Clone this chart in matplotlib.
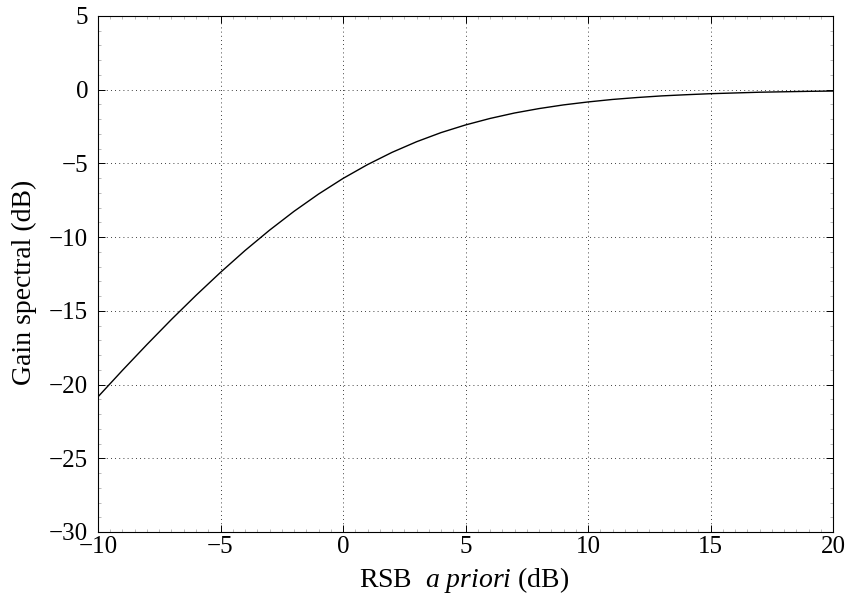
import matplotlib
matplotlib.use("Agg")
import matplotlib.pyplot as plt
from matplotlib.ticker import MultipleLocator

plt.rcParams['font.family'] = ['Liberation Serif', 'DejaVu Serif']
plt.rcParams['mathtext.fontset'] = 'custom'
plt.rcParams['mathtext.rm'] = 'Liberation Serif'
plt.rcParams['mathtext.it'] = 'Liberation Serif:italic'

# RSB a priori (dB) et gain spectral (dB)
rsb_db = [-10, -9, -8, -7, -6, -5, -4, -3, -2, -1, 0, 1, 2, 3, 4, 5,
          6, 7, 8, 9, 10, 11, 12, 13, 14, 15, 16, 17, 18, 19, 20]
gain_db = [-20.83, -19.03, -17.28, -15.58, -13.95, -12.39, -10.91, -9.53,
           -8.25, -7.08, -6.02, -5.08, -4.25, -3.53, -2.91, -2.39, -1.95,
           -1.58, -1.28, -1.03, -0.83, -0.66, -0.53, -0.42, -0.34, -0.27,
           -0.22, -0.17, -0.14, -0.11, -0.09]

x_ticks = [-10, -5, 0, 5, 10, 15, 20]
y_ticks = [-30, -25, -20, -15, -10, -5, 0, 5]

fig = plt.figure(figsize=(8.49, 5.96), dpi=100)
ax = fig.add_axes([98 / 849, 64 / 596, 735 / 849, 516 / 596])

ax.plot(rsb_db, gain_db, color='black', linewidth=1.0)

ax.set_xlim(-10, 20)
ax.set_ylim(-30, 5)
ax.set_xticks(x_ticks)
ax.set_yticks(y_ticks)
ax.set_xticklabels([str(t).replace('-', '\u2212') for t in x_ticks])
ax.set_yticklabels([str(t).replace('-', '\u2212') for t in y_ticks])
ax.xaxis.set_minor_locator(MultipleLocator(0.5))
ax.yaxis.set_minor_locator(MultipleLocator(1))

ax.grid(True, which='major', linestyle=(0, (1, 4)), color='black', linewidth=0.6)
ax.tick_params(which='major', direction='in', length=5, width=0.7,
               labelsize=18, top=True, right=True)
ax.tick_params(axis='x', which='major', pad=3)
ax.tick_params(axis='y', which='major', pad=7)
ax.tick_params(which='minor', direction='in', length=2, width=0.4,
               color='#888888', top=True, right=True)
for s in ax.spines.values():
    s.set_linewidth(0.8)

ax.set_xlabel(r'RSB  $\it{a\ priori}$ (dB)', fontsize=20)
ax.xaxis.set_label_coords(0.498, -0.064, transform=ax.transAxes)
ax.xaxis.label.set_va('top')
ax.set_ylabel('Gain spectral (dB)', fontsize=20)
ax.yaxis.set_label_coords(-0.083, 0.483, transform=ax.transAxes)
ax.yaxis.label.set_va('bottom')

fig.savefig('out.png', dpi=100)
